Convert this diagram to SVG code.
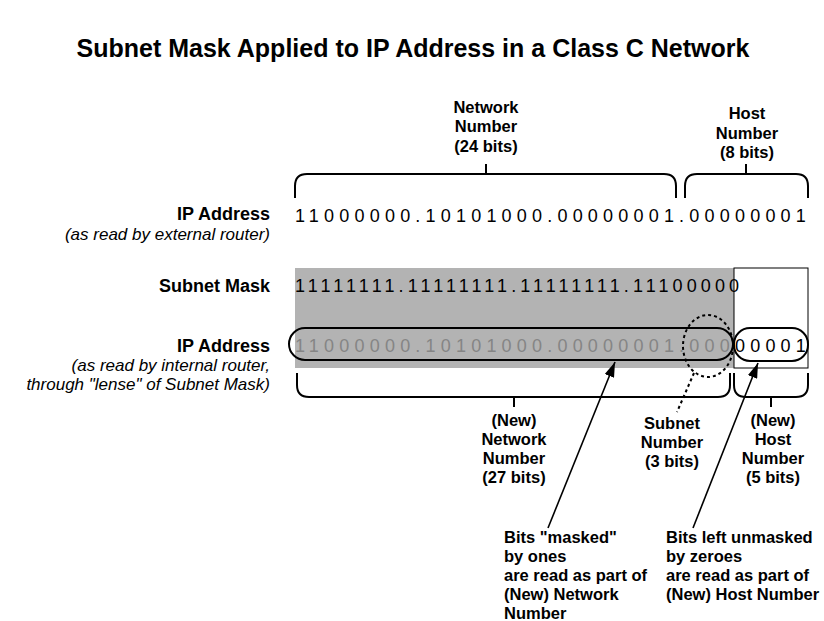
<svg xmlns="http://www.w3.org/2000/svg" width="824" height="621" viewBox="0 0 824 621">
<defs>
<marker id="ah" markerUnits="userSpaceOnUse" markerWidth="16" markerHeight="10" refX="15" refY="5" orient="auto">
<path d="M0,0 L15,5 L0,10 z" fill="#000"/>
</marker>
<style>
text{font-family:"Liberation Sans",Arial,Helvetica,sans-serif;fill:#000}
.t{font-size:25px;font-weight:bold}
.lb{font-size:18px;font-weight:bold;text-anchor:end}
.it{font-size:17px;font-style:italic;text-anchor:end}
.c{font-size:16.5px;font-weight:bold;text-anchor:middle}
.p{font-size:16.5px;font-weight:bold}
.bin{font-size:18px}
.br{fill:none;stroke:#000;stroke-width:2}
.pill{fill:none;stroke:#000;stroke-width:2}
.ar{fill:none;stroke:#000;stroke-width:1.6;marker-end:url(#ah)}
.dash{fill:none;stroke:#000;stroke-width:2;stroke-dasharray:3,3}
</style>
</defs>
<text class="t" x="413" y="57" text-anchor="middle">Subnet Mask Applied to IP Address in a Class C Network</text>

<g id="labels-left">
<text class="lb" x="270" y="220">IP Address</text>
<text class="it" x="270" y="240">(as read by external router)</text>
<text class="lb" x="270" y="292">Subnet Mask</text>
<text class="lb" x="270" y="352">IP Address</text>
<text class="it" x="270" y="371">(as read by internal router,</text>
<text class="it" x="270" y="390">through "lense" of Subnet Mask)</text>
</g>

<g id="mask-area">
<rect x="295" y="268" width="439" height="100" fill="#b3b3b3"/>
<rect x="734" y="268" width="74" height="100" fill="none" stroke="#000" stroke-width="1"/>
</g>

<g id="ip-external">
<text class="bin" x="295" y="222" letter-spacing="5.2">11000000.10101000.00000001.00000001</text>
</g>
<g id="subnet-mask">
<text class="bin" x="295" y="292" letter-spacing="4.1">11111111.11111111.11111111.11100000</text>
</g>
<g id="ip-internal">
<text class="bin" x="295" y="352" letter-spacing="5.2"><tspan fill="#858585">11000000.10101000.00000001.000</tspan><tspan fill="#000">00001</tspan></text>
<rect class="pill" x="289" y="328" width="444" height="32" rx="16"/>
<rect class="pill" x="734" y="328" width="74" height="33" rx="16"/>
<ellipse class="dash" cx="708" cy="346" rx="25" ry="31"/>
</g>

<g id="top-network">
<text class="c" x="486" y="113">Network</text>
<text class="c" x="486" y="132">Number</text>
<text class="c" x="486" y="152">(24 bits)</text>
</g>
<g id="top-host">
<text class="c" x="747" y="119">Host</text>
<text class="c" x="747" y="139">Number</text>
<text class="c" x="747" y="158">(8 bits)</text>
</g>

<g id="bottom-network">
<text class="c" x="514" y="426">(New)</text>
<text class="c" x="514" y="445">Network</text>
<text class="c" x="514" y="464">Number</text>
<text class="c" x="514" y="483">(27 bits)</text>
</g>
<g id="bottom-subnet">
<text class="c" x="672" y="429">Subnet</text>
<text class="c" x="672" y="448">Number</text>
<text class="c" x="672" y="467">(3 bits)</text>
</g>
<g id="bottom-host">
<text class="c" x="773" y="426">(New)</text>
<text class="c" x="773" y="445">Host</text>
<text class="c" x="773" y="464">Number</text>
<text class="c" x="773" y="483">(5 bits)</text>
</g>

<g id="note-masked">
<text class="p" x="504" y="543">Bits "masked"</text>
<text class="p" x="504" y="562">by ones</text>
<text class="p" x="504" y="581">are read as part of</text>
<text class="p" x="504" y="600">(New) Network</text>
<text class="p" x="504" y="619">Number</text>
</g>
<g id="note-unmasked">
<text class="p" x="666" y="543">Bits left unmasked</text>
<text class="p" x="666" y="562">by zeroes</text>
<text class="p" x="666" y="581">are read as part of</text>
<text class="p" x="666" y="600">(New) Host Number</text>
</g>

<g id="connectors">
<path class="br" d="M295,198 V186 Q295,174 307,174 H664 Q676,174 676,186 V198 M486,174 V164"/>
<path class="br" d="M685,198 V186 Q685,174 697,174 H796 Q808,174 808,186 V198 M746,174 V164"/>
<path class="br" d="M297,373 V385 Q297,397 309,397 H718 Q730,397 730,385 V373 M514,397 V407"/>
<path class="br" d="M734,373 V385 Q734,397 746,397 H796 Q808,397 808,385 V373 M771,397 V407"/>
<path class="dash" d="M694,373 L677,412"/>
<path class="ar" d="M548,528 L615,362"/>
<path class="ar" d="M693,528 L758,363"/>
</g>
</svg>
